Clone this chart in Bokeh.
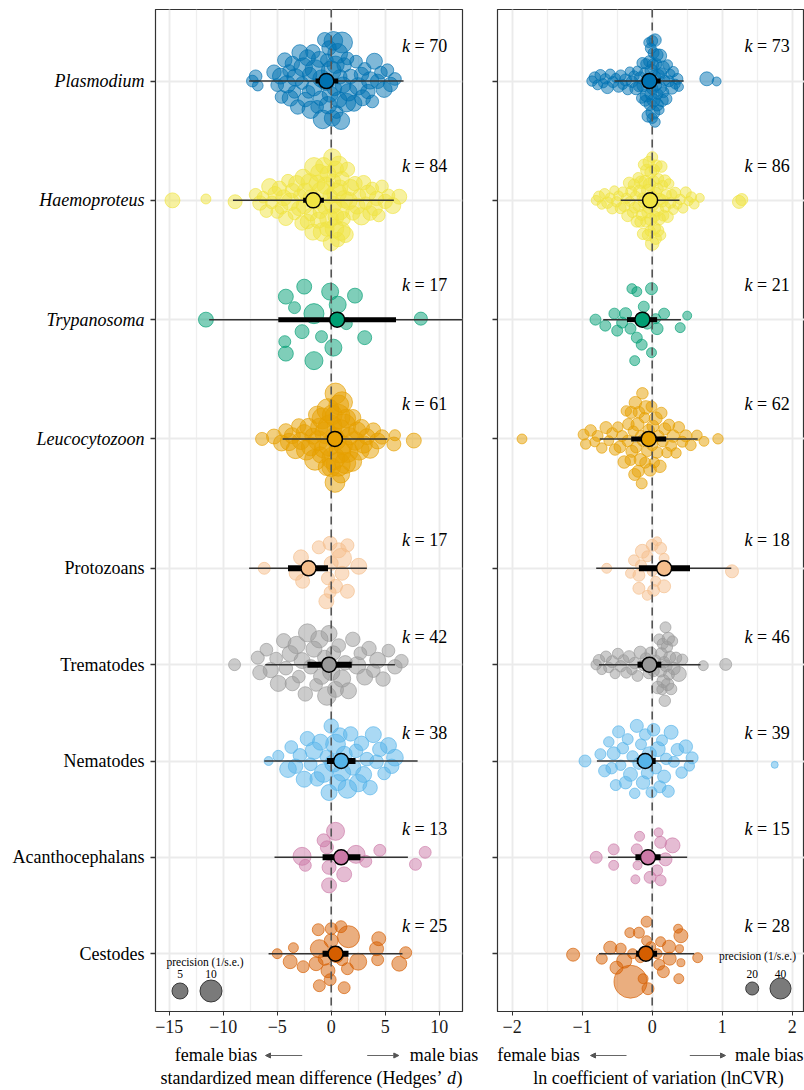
import numpy as np
from bokeh.plotting import figure
from bokeh.models import Range1d, FixedTicker, Arrow, NormalHead, ColumnDataSource, CustomJSTickFormatter
from bokeh.layouts import row, column
from bokeh.embed import file_html
from bokeh.resources import INLINE
from bokeh.core.properties import value

# ---------------- categories ----------------
categories = ["Plasmodium", "Haemoproteus", "Trypanosoma", "Leucocytozoon",
              "Protozoans", "Trematodes", "Nematodes", "Acanthocephalans", "Cestodes"]
italic_label = [True, True, True, True, False, False, False, False, False]
colors = ["#0072B2", "#F0E442", "#009E73", "#E69F00", "#F5BE8C",
          "#999999", "#56B4E9", "#CC79A7", "#D55E00"]

# ---------------- summaries: Hedges' d ----------------
d_est = [-0.45, -1.67, 0.55, 0.34, -2.1, -0.2, 0.92, 0.92, 0.4]
d_ci_lo = [-1.45, -2.6, -4.9, -0.35, -4.0, -2.2, -0.4, -0.8, -0.8]
d_ci_hi = [0.65, -0.68, 6.0, 1.05, -0.3, 1.9, 2.25, 2.7, 1.6]
d_pi_lo = [-7.6, -9.1, -11.3, -4.5, -7.6, -6.1, -6.2, -5.25, -5.8]
d_pi_hi = [6.7, 5.8, 13.5, 5.2, 3.3, 5.9, 8.0, 7.1, 6.6]

# ---------------- summaries: lnCVR ----------------
r_est = [-0.04, -0.03, -0.14, -0.05, 0.17, -0.04, -0.10, -0.06, -0.09]
r_ci_lo = [-0.12, -0.10, -0.36, -0.30, -0.19, -0.21, -0.22, -0.24, -0.23]
r_ci_hi = [0.12, 0.04, 0.07, 0.20, 0.54, 0.13, 0.05, 0.12, 0.07]
r_pi_lo = [-0.54, -0.45, -0.70, -0.75, -0.80, -0.76, -0.79, -0.63, -0.76]
r_pi_hi = [0.45, 0.39, 0.41, 0.65, 1.13, 0.69, 0.59, 0.50, 0.60]

# ---------------- effect sizes: Hedges' d ----------------
d_plasmodium_x = [-7.3, -7.0, -6.8,
                  -5.3, -5.0, -4.7, -4.6, -4.3, -4.1, -3.9,
                  -3.8, -3.6, -3.4, -3.3, -3.1, -2.9, -2.7, -2.6, -2.4, -2.2, -2.1, -2.0,
                  -1.9, -1.7, -1.6, -1.5, -1.3, -1.1, -1.0, -0.9, -0.8, -0.6, -0.5, -0.4, -0.3, -0.2, -0.1, 0.0,
                  0.1, 0.2, 0.3, 0.4, 0.5, 0.6, 0.7, 0.8, 0.9, 1.0, 1.1, 1.2, 1.4, 1.5, 1.6, 1.8,
                  2.1, 2.3, 2.5, 2.8, 2.9, 3.1, 3.4, 3.6, 3.8, 4.0,
                  4.3, 4.6, 4.9, 5.2, 5.5, 5.9]
d_plasmodium_prec = [2.5, 3, 2,
                     4, 3, 5, 3, 4, 6, 3,
                     5, 4, 3, 6, 4, 5, 3, 7, 4, 5, 3, 4,
                     6, 4, 5, 8, 3, 5, 4, 6, 7, 4, 5, 3, 6, 4, 5, 8,
                     5, 7, 4, 6, 3, 8, 5, 4, 6, 9, 5, 4, 7, 3, 6, 4,
                     5, 3, 6, 4, 5, 3, 4, 6, 3, 5,
                     4, 3, 5, 3, 4, 3]

d_haemoproteus_x = [-14.7, -11.6, -8.9,
                    -7.0, -6.6, -6.3, -6.0, -5.7, -5.5, -5.2, -5.0,
                    -4.8, -4.6, -4.4, -4.2, -4.0, -3.8, -3.6, -3.4, -3.2, -3.0, -2.9, -2.7, -2.5,
                    -2.4, -2.2, -2.0, -1.9, -1.7, -1.6, -1.4, -1.3, -1.1, -1.0, -0.9, -0.7, -0.6, -0.5, -0.3, -0.2, -0.1, 0.0,
                    0.1, 0.2, 0.3, 0.4, 0.5, 0.6, 0.7, 0.8, 0.9, 1.0, 1.2, 1.3, 1.5, 1.6, 1.8, 2.0,
                    2.2, 2.4, 2.6, 2.8, 3.0, 3.2, 3.4, 3.6, 3.8, 4.0, 4.2, 4.4,
                    4.7, 5.0, 5.3, 5.7, 6.3,
                    -1.8, -1.2, -0.8, -0.4, 0.15, 0.45, 0.75, 1.1, -2.6]
d_haemoproteus_prec = [4.3, 1.7, 3.7,
                       3, 4, 2.5, 3, 5, 3, 4, 3,
                       4, 3, 5, 4, 3, 6, 4, 3, 5, 4, 3, 4, 5,
                       5, 4, 6, 3, 5, 7, 4, 5, 6, 4, 8, 5, 4, 6, 5, 7, 4, 5,
                       6, 4, 7, 5, 8, 4, 6, 5, 7, 4, 6, 5, 4, 6, 5, 4,
                       4, 5, 3, 6, 4, 3, 5, 4, 3, 5, 4, 3,
                       3, 4, 3, 5, 4.3,
                       6, 5, 7, 4, 6, 5, 8, 4, 5]

d_trypanosoma_x = [-11.6, -2.5, -4.2, -3.4, -1.6, -0.1, 2.2, 0.6, 1.4, -2.7, -0.9, 3.1, -4.3, -4.2, 0.2, -1.6, 8.3]
d_trypanosoma_dy = [0, -33, -23, -12, -6, -28, -24, -15, 4, 12, 17, 18, 22, 34, 28, 41, -1]
d_trypanosoma_prec = [4.3, 4.3, 4.3, 2.6, 8.2, 5.7, 4.3, 5.7, 2.6, 3.7, 2.6, 3.7, 2.6, 4.3, 5.7, 6.5, 3.2]

d_leucocytozoon_x = [-6.4, -5.3,
                     -4.6, -4.2, -3.9, -3.6, -3.3, -3.0,
                     -2.8, -2.5, -2.3, -2.1, -1.9, -1.7, -1.5, -1.3, -1.2, -1.0,
                     -0.8, -0.7, -0.5, -0.4, -0.2, -0.1, 0.0,
                     0.1, 0.2, 0.3, 0.4, 0.5, 0.6, 0.7, 0.8, 0.9, 1.0, 1.1, 1.2,
                     1.4, 1.5, 1.7, 1.9, 2.0, 2.2, 2.4, 2.6, 2.8, 3.0,
                     3.3, 3.6, 3.9, 4.3, 4.7,
                     5.8, 5.9, 7.65,
                     -0.3, 0.35, 0.65, 0.85, 1.3, -1.1]
d_leucocytozoon_prec = [3.2, 4.3,
                        5, 4, 6, 5, 7, 4,
                        6, 5, 8, 6, 7, 5, 9, 6, 8, 5,
                        9, 7, 10, 6, 8, 12, 7,
                        8, 11, 6, 9, 7, 13, 8, 10, 6, 9, 7, 11,
                        7, 9, 6, 8, 5, 7, 6, 8, 5, 6,
                        5, 6, 4, 5, 4,
                        3.7, 2.2, 4.3,
                        10, 8, 12, 7, 9, 6]

d_protozoans_x = [-6.2, -2.8, -3.25, -2.65, -1.15, -0.1, 0.7, 1.5, 0.95, 0.0, 2.55, 1.0, -0.3, 0.4, 1.5, -0.45, -0.1]
d_protozoans_dy = [0, -11, 5, 13, -21, -25, -18, -23, -10, -5, -2, 5, 10, 18, 23, 33, 24]
d_protozoans_prec = [2.6, 4.3, 3.7, 3.7, 3.2, 3.7, 4.3, 3.2, 8.2, 3.7, 5.0, 3.7, 3.2, 3.7, 3.7, 4.3, 2.6]

d_trematodes_x = [-8.95, -6.8, -6.6, -6.0, -5.6, -5.1, -4.9, -4.4, -4.2, -3.8,
                  -3.6, -3.2, -3.0, -2.7, -2.4, -2.2, -1.9, -1.6, -1.4, -1.1,
                  -0.9, -0.6, -0.4, -0.2, 0.0, 0.2, 0.4, 0.7, 1.0, 1.3,
                  1.6, 2.0, 2.4, 2.7, 3.1, 3.5, 3.9, 4.3, 4.8, 5.3, 5.9, 6.5]
d_trematodes_prec = [2.6, 3.2, 4, 3, 4.5, 3, 5, 4, 3.5, 5,
                     4, 6, 3, 5, 4, 6.5, 4, 5, 3, 6,
                     5, 4, 7, 5, 6, 4, 5, 3.5, 6, 4,
                     5, 4, 6, 3, 5, 4, 3.5, 5, 4, 3, 4, 3.5]

d_nematodes_x = [-5.8, -4.9, -4.0, -3.7, -3.3, -2.9, -2.5, -2.2, -1.9, -1.6,
                 -1.3, -1.0, -0.7, -0.4, -0.2, 0.0, 0.2, 0.4, 0.6, 0.8,
                 1.0, 1.2, 1.5, 1.8, 2.0, 2.3, 2.5, 2.8, 3.0, 3.3,
                 3.6, 3.9, 4.2, 4.5, 4.9, 5.3, 5.6, 5.9]
d_nematodes_prec = [1.3, 2.2, 5.5, 3, 4, 3.5, 5, 4, 3, 6,
                    4, 5, 7, 3.5, 5, 4, 6, 8, 5, 4,
                    6, 5, 7, 4, 5, 3.5, 6, 4, 5, 3.5,
                    4, 5, 3.5, 4, 3, 5, 4, 5.5]

d_acanthocephalans_x = [0.4, -0.7, -0.4, -2.7, -2.4, 2.3, 3.2, 4.5, 7.8, 8.7, -0.2, 1.2, -0.2]
d_acanthocephalans_dy = [-26, -17, -10, -1, 8, -3, 4, -7, 7, -5, 10, 17, 28]
d_acanthocephalans_prec = [6.5, 3.2, 3.2, 6.5, 2.6, 6.5, 2.6, 2.6, 2.6, 2.6, 3.7, 4.3, 4.3]

d_cestodes_x = [-5.0, -3.5, -3.8, -2.6, -1.2, 0.0, 0.9, 1.6, -1.1, -1.4,
                -0.3, -0.1, -1.1, 1.2, 1.5, 2.5, 4.4, 4.2, 4.3, 6.3,
                6.9, 0.0, 0.5, -0.6, 1.0]
d_cestodes_dy = [0, -6, 8, 13, -24, -25, -27, -17, -5, 10,
                 17, 26, 32, 34, 15, 8, -15, -5, 6, 10,
                 -1, -13, 2, 5, 6]
d_cestodes_prec = [1.7, 1.7, 3.7, 2.6, 2.6, 2.6, 2.6, 10, 6.5, 3.7,
                   3.7, 2.6, 2.6, 2.6, 2.6, 5.7, 3.7, 3.7, 2.6, 4.3,
                   2.6, 3.7, 3.7, 3.2, 2.6]

# ---------------- effect sizes: lnCVR ----------------
r_plasmodium_x = [-0.86, -0.82, -0.78, -0.74, -0.70, -0.67, -0.64, -0.60, -0.56, -0.52, -0.48,
                  -0.45, -0.42, -0.38, -0.35, -0.32, -0.29, -0.26, -0.23, -0.21, -0.19,
                  -0.17, -0.15, -0.13, -0.11, -0.10, -0.08, -0.07, -0.06, -0.05, -0.04,
                  -0.03, -0.02, -0.01, 0.00, 0.01, 0.01, 0.02, 0.03, 0.04, 0.05,
                  0.06, 0.07, 0.08, 0.09, 0.10, 0.11, 0.12, 0.13, 0.14, 0.16,
                  0.18, 0.20, 0.22, 0.24, 0.26, 0.28, 0.30, 0.33, 0.36, 0.38,
                  0.78, 0.92,
                  -0.02, 0.00, 0.02, -0.04, 0.04, -0.09, 0.07, -0.14, 0.15, 0.0]
r_plasmodium_prec = [15, 17, 14, 16, 13, 15, 18, 14, 16, 13, 17,
                     16, 14, 18, 15, 13, 17, 15, 19, 14, 16,
                     17, 15, 19, 14, 16, 20, 15, 18, 14, 17,
                     18, 16, 20, 15, 17, 22, 16, 19, 15, 18,
                     16, 19, 15, 18, 14, 21, 17, 15, 19, 16,
                     15, 17, 14, 16, 13, 18, 15, 14, 16, 13,
                     22, 12.5,
                     18, 16, 20, 17, 19, 15, 18, 16, 21, 17]

r_haemoproteus_x = [-0.80, -0.76, -0.72, -0.68, -0.64, -0.60, -0.57, -0.54, -0.51, -0.48,
                    -0.45, -0.42, -0.40, -0.37, -0.35, -0.32, -0.30, -0.28, -0.26, -0.24,
                    -0.22, -0.20, -0.19, -0.17, -0.16, -0.14, -0.13, -0.12, -0.10, -0.09,
                    -0.08, -0.07, -0.06, -0.05, -0.04, -0.03, -0.02, -0.01, 0.00, 0.01,
                    0.02, 0.03, 0.04, 0.05, 0.06, 0.07, 0.08, 0.09, 0.10, 0.11,
                    0.12, 0.13, 0.15, 0.16, 0.18, 0.20, 0.22, 0.24, 0.26, 0.28,
                    0.30, 0.33, 0.36, 0.40, 0.44, 0.48, 0.52, 0.56, 0.60, 0.68,
                    1.24, 1.28,
                    -0.18, -0.15, -0.11, -0.06, -0.02, 0.03, 0.08, -0.25, -0.33, 0.14, 0.19, -0.05, 0.0, 0.05]
r_haemoproteus_prec = [14, 16, 13, 15, 17, 14, 16, 13, 15, 14,
                       16, 14, 17, 15, 18, 14, 16, 15, 17, 14,
                       17, 15, 18, 16, 19, 15, 17, 16, 20, 15,
                       18, 16, 20, 17, 19, 15, 18, 16, 21, 17,
                       16, 19, 15, 18, 17, 20, 16, 15, 19, 17,
                       15, 17, 14, 16, 18, 15, 17, 14, 16, 15,
                       14, 16, 13, 15, 14, 16, 13, 15, 14, 12.5,
                       20, 17.9,
                       18, 16, 20, 17, 19, 15, 18, 16, 17, 19, 15, 18, 16, 17]

r_trypanosoma_x = [-0.29, -0.22, -0.01, -0.12, -0.81, -0.67, -0.54, -0.50, -0.38, -0.31,
                   -0.22, -0.15, -0.01, -0.25, 0.05, 0.07, 0.17, 0.40, 0.50, -0.07, -0.43]
r_trypanosoma_dy = [-31, -28, -31, -13, 0, 6, -6, 11, -6, 9,
                    18, 25, 33, 41, -1, 9, -6, 8, -4, 4, 3]
r_trypanosoma_prec = [14.2, 14.2, 17.9, 16, 16, 16, 16, 16, 17.9, 16,
                      16, 16, 14.2, 14.2, 14.2, 17.9, 16, 14.2, 12.5, 16, 16]

r_leucocytozoon_x = [-1.86, -0.98, -0.95, -0.88, -0.82, -0.78, -0.72, -0.66, -0.62, -0.57,
                     -0.53, -0.49, -0.46, -0.43, -0.40, -0.37, -0.34, -0.31, -0.29, -0.27,
                     -0.25, -0.23, -0.21, -0.19, -0.17, -0.15, -0.13, -0.11, -0.09, -0.07,
                     -0.05, -0.03, -0.01, 0.01, 0.03, 0.05, 0.07, 0.09, 0.11, 0.13,
                     0.15, 0.18, 0.21, 0.24, 0.27, 0.30, 0.34, 0.38, 0.43, 0.48,
                     0.55, 0.64, 0.74, 0.94,
                     -0.20, -0.14, -0.24, -0.10, -0.30, 0.0, -0.16, -0.35]
r_leucocytozoon_prec = [14, 16, 15, 17, 14, 16, 15, 18, 14, 16,
                        17, 15, 18, 16, 19, 15, 17, 16, 18, 15,
                        18, 16, 20, 17, 19, 16, 18, 15, 21, 17,
                        17, 19, 16, 18, 15, 20, 17, 16, 19, 17,
                        16, 18, 15, 17, 16, 19, 15, 17, 16, 18,
                        16, 15, 14, 15,
                        18, 17, 19, 16, 18, 17, 16, 17]

r_protozoans_x = [-0.65, -0.31, -0.26, -0.14, 0.0, 0.12, -0.07, -0.19, 0.0, -0.19,
                  -0.07, 0.02, 0.17, 1.14, 0.05, -0.16, 0.17, 0.07]
r_protozoans_dy = [0, 5, -8, -17, -23, -20, -12, 7, 3, 20,
                   27, 22, 18, 3, 13, -3, -10, -27]
r_protozoans_prec = [14.2, 14.2, 16, 22.1, 17.9, 17.9, 16, 17.9, 14.2, 17.9,
                     14.2, 17.9, 20, 20, 14.2, 16, 14.2, 12.5]

r_trematodes_x = [-0.80, -0.76, -0.72, -0.66, -0.62, -0.57, -0.53, -0.49, -0.45, -0.41,
                  -0.37, -0.33, -0.29, -0.25, -0.21, -0.17, -0.13, -0.09, -0.05, -0.02,
                  0.02, 0.05, 0.08, 0.10, 0.12, 0.14, 0.16, 0.17, 0.19, 0.20,
                  0.21, 0.22, 0.24, 0.25, 0.27, 0.29, 0.31, 0.34, 0.38, 0.43,
                  0.73, 1.05,
                  0.13, 0.18, 0.23, 0.15]
r_trematodes_prec = [15, 17, 14, 16, 15, 18, 14, 16, 17, 15,
                     16, 18, 15, 17, 16, 19, 15, 17, 16, 18,
                     17, 15, 19, 16, 18, 15, 20, 17, 16, 18,
                     17, 19, 16, 18, 17, 15, 19, 17, 24.3, 16,
                     14.2, 17.9,
                     18, 17, 19, 16]

r_nematodes_x = [-0.96, -0.74, -0.68, -0.62, -0.58, -0.55, -0.52, -0.48, -0.45, -0.42,
                 -0.38, -0.35, -0.31, -0.28, -0.25, -0.22, -0.19, -0.16, -0.13, -0.10,
                 -0.07, -0.04, -0.01, 0.02, 0.05, 0.08, 0.11, 0.14, 0.17, 0.20,
                 0.23, 0.27, 0.31, 0.36, 0.42, 0.48, 0.53, 0.57, 1.75]
r_nematodes_prec = [17.9, 16, 18, 15, 17, 20, 16, 18, 15, 17,
                    19, 16, 22, 17, 15, 20, 18, 16, 21, 17,
                    18, 22, 16, 19, 17, 24, 18, 16, 20, 17,
                    18, 22, 16, 19, 17, 21, 15, 18, 9.5]

r_acanthocephalans_x = [-0.80, -0.55, -0.55, -0.18, -0.22, -0.21, -0.24, 0.09, 0.12, 0.29, 0.19, 0.07, -0.03, 0.12, -0.05]
r_acanthocephalans_dy = [0, -8, 8, -21, -8, 8, 22, -25, -15, -12, 2, 13, 20, 23, 0]
r_acanthocephalans_prec = [17.9, 16, 14.2, 14.2, 16, 12.5, 12.5, 12.5, 17.9, 24.3, 20, 16, 17.9, 16, 14.2]

r_cestodes_x = [-1.13, -0.72, -0.60, -0.45, -0.40, -0.51, -0.32, -0.19, -0.08, -0.08,
                -0.31, -0.13, -0.06, 0.12, 0.24, 0.37, 0.41, 0.39, 0.25, 0.41,
                0.10, 0.16, 0.38, 0.65, -0.28, 0.07, -0.17, -0.02]
r_cestodes_dy = [1, 5, -6, -5, 7, 14, -21, -21, -32, -13,
                 28, 25, 35, -12, -7, -25, -18, -5, 5, 9,
                 11, 18, 25, 4, 0, 0, 4, -7]
r_cestodes_prec = [20, 16, 20, 16, 24.3, 20, 14.2, 16, 16, 14.2,
                   82.8, 14.2, 17.9, 14.2, 20, 12.5, 22.1, 11, 20, 11,
                   16, 17.9, 14.2, 14.2, 14.2, 14.2, 14.2, 14.2]

d_groups = [(d_plasmodium_x, d_plasmodium_prec, None),
            (d_haemoproteus_x, d_haemoproteus_prec, None),
            (d_trypanosoma_x, d_trypanosoma_prec, d_trypanosoma_dy),
            (d_leucocytozoon_x, d_leucocytozoon_prec, None),
            (d_protozoans_x, d_protozoans_prec, d_protozoans_dy),
            (d_trematodes_x, d_trematodes_prec, None),
            (d_nematodes_x, d_nematodes_prec, None),
            (d_acanthocephalans_x, d_acanthocephalans_prec, d_acanthocephalans_dy),
            (d_cestodes_x, d_cestodes_prec, d_cestodes_dy)]
r_groups = [(r_plasmodium_x, r_plasmodium_prec, None),
            (r_haemoproteus_x, r_haemoproteus_prec, None),
            (r_trypanosoma_x, r_trypanosoma_prec, r_trypanosoma_dy),
            (r_leucocytozoon_x, r_leucocytozoon_prec, None),
            (r_protozoans_x, r_protozoans_prec, r_protozoans_dy),
            (r_trematodes_x, r_trematodes_prec, None),
            (r_nematodes_x, r_nematodes_prec, None),
            (r_acanthocephalans_x, r_acanthocephalans_prec, r_acanthocephalans_dy),
            (r_cestodes_x, r_cestodes_prec, r_cestodes_dy)]

d_ticks = [-15, -10, -5, 0, 5, 10]
r_ticks = [-2, -1, 0, 1, 2]
d_legend_breaks = [5, 10]
r_legend_breaks = [20, 40]

# ---------------- layout (page pixels) ----------------
FONT = "Liberation Serif"
TOP, MID, BOT = 9.0, 510.0, 1011.0
PANEL_H = 1043          # canvas height of the panel row
TOTAL_H = 1090
row_y = [TOP + (0.6 + i) * (MID - TOP) / 4.2 for i in range(4)] + \
        [MID + (0.6 + i) * (BOT - MID) / 5.2 for i in range(5)]
row_gap = [(MID - TOP) / 4.2] * 4 + [(BOT - MID) / 5.2] * 5


def vdc_seq(n):
    out = np.zeros(n)
    for i in range(1, n + 1):
        v, denom, k = 0.0, 1.0, i
        while k > 0:
            k, rem = divmod(k, 2)
            denom *= 2.0
            v += rem / denom
        out[i - 1] = v
    return out


def quasirandom(xs, half_width, adjust=0.5):
    xs = np.asarray(xs, float)
    n = len(xs)
    sd = xs.std(ddof=1)
    q75, q25 = np.percentile(xs, [75, 25])
    iqr = (q75 - q25) / 1.34
    lo = min(sd, iqr) if iqr > 0 else sd
    bw = 0.9 * lo * n ** (-0.2) * adjust
    dens = np.exp(-0.5 * ((xs[:, None] - xs[None, :]) / bw) ** 2).sum(axis=1)
    dens = dens / dens.max()
    ranks = np.argsort(np.argsort(xs, kind="stable"), kind="stable")
    return (vdc_seq(n)[ranks] - 0.5) * 2 * half_width * dens


def blank_fig(w, fh, x0, x1, y0, y1, mtop, mbot):
    f = figure(frame_width=w, frame_height=fh,
               min_border_left=0, min_border_right=0, min_border_top=mtop, min_border_bottom=mbot,
               x_range=Range1d(x0, x1), y_range=Range1d(y0, y1),
               x_axis_type=None, y_axis_type=None,
               output_backend="svg", toolbar_location=None, tools="")
    f.outline_line_color = None
    f.grid.visible = False
    f.background_fill_color = "white"
    f.border_fill_color = "white"
    return f


def make_panel(cfg, groups, est, ci_lo, ci_hi, pi_lo, pi_hi):
    ppu = cfg["ppu"]
    x0 = cfg["x0"]
    x1 = x0 + 307 / ppu
    fl = cfg["frame_left"]

    def X(px):
        return x0 + (px - fl) / ppu

    p = figure(frame_width=307, frame_height=int(BOT - TOP),
               min_border_left=cfg["mbl"], min_border_right=cfg["mbr"],
               min_border_top=int(TOP), min_border_bottom=int(PANEL_H - BOT),
               x_range=Range1d(x0, x1), y_range=Range1d(BOT, TOP),
               output_backend="svg", toolbar_location=None, tools="")
    p.background_fill_color = "white"
    p.border_fill_color = "white"
    p.outline_line_color = "#333333"
    p.outline_line_width = 1.2

    # axes
    p.xaxis.ticker = FixedTicker(ticks=cfg["ticks"], minor_ticks=cfg["minor"])
    p.xaxis.major_label_overrides = {t: (str(t).replace("-", "\u2212")) for t in cfg["ticks"]}
    p.xaxis.major_label_text_font = FONT
    p.xaxis.major_label_text_font_size = "18px"
    p.xaxis.major_label_text_color = "#1a1a1a"
    p.xaxis.major_tick_out = 4
    p.xaxis.major_tick_in = 0
    p.xaxis.minor_tick_line_color = None
    p.xaxis.axis_line_color = "#333333"
    p.xaxis.major_tick_line_color = "#333333"
    p.xaxis.major_label_standoff = 4

    p.yaxis.ticker = FixedTicker(ticks=row_y)
    p.yaxis.formatter = CustomJSTickFormatter(code="return ''")
    p.yaxis.major_label_text_font_size = "0px"
    p.yaxis.major_label_standoff = 0
    p.yaxis.major_tick_out = 5
    p.yaxis.major_tick_in = 0
    p.yaxis.minor_tick_line_color = None
    p.yaxis.axis_line_color = "#333333"
    p.yaxis.major_tick_line_color = "#333333"
    p.yaxis.major_tick_line_width = 1.5

    # grid
    p.xgrid.grid_line_color = "#EBEBEB"
    p.xgrid.grid_line_width = 1.8
    p.xgrid.minor_grid_line_color = "#EFEFEF"
    p.xgrid.minor_grid_line_width = 1.3
    p.ygrid.grid_line_color = "#EBEBEB"
    p.ygrid.grid_line_width = 1.8

    size_fn = cfg["size"]

    # raw effect sizes
    for i, (xs, prec, dy) in enumerate(groups):
        xs = np.asarray(xs, float)
        prec = np.asarray(prec, float)
        if dy is None:
            off = quasirandom(xs, 0.4 * row_gap[i])
        else:
            off = np.asarray(dy, float)
        src = ColumnDataSource(dict(x=xs, y=row_y[i] + off, s=size_fn(prec)))
        p.scatter("x", "y", size="s", source=src, fill_color=colors[i], fill_alpha=0.5,
                  line_color=colors[i], line_alpha=0.65, line_width=1)

    # zero line
    p.segment(x0=[0], y0=[TOP], x1=[0], y1=[BOT], line_color="#555555",
              line_width=1.6, line_dash="8 5")

    # prediction intervals
    p.segment(x0=pi_lo, y0=row_y, x1=pi_hi, y1=row_y, line_color="#333333", line_width=1.5)
    # confidence intervals
    ci_w = [5] * 4 + [6] * 5
    p.segment(x0=ci_lo, y0=row_y, x1=ci_hi, y1=row_y, line_color="black", line_width=ci_w)
    # estimates
    p.scatter(x=est, y=row_y, size=15, fill_color=colors, line_color="black", line_width=1.5)

    # k labels
    ky = [row_y[i] - 0.29 * row_gap[i] for i in range(9)]
    ks = ["= %d" % len(g[0]) for g in groups]
    p.text(x=[X(cfg["k_right"])] * 9, y=ky, text=["k"] * 9, text_font=value(FONT),
           text_font_style="italic", text_font_size="18px", text_align="right",
           text_baseline="middle", text_color="black")
    p.text(x=[X(cfg["k_right"] + 4.5)] * 9, y=ky, text=ks, text_font=value(FONT),
           text_font_size="18px", text_align="left", text_baseline="middle", text_color="black")

    # precision legend
    lx = [X(v) for v in cfg["leg_x"]]
    p.text(x=[X(cfg["leg_title_x"])], y=[cfg["leg_title_y"]], text=["precision (1/s.e.)"],
           text_font=value(FONT), text_font_size="11.5px", text_align="center",
           text_baseline="middle", text_color="black")
    p.text(x=lx, y=[cfg["leg_num_y"]] * 2, text=[str(b) for b in cfg["breaks"]],
           text_font=value(FONT), text_font_size="11.5px", text_align="center",
           text_baseline="middle", text_color="black")
    p.scatter(x=lx, y=[cfg["leg_circ_y"]] * 2, size=size_fn(np.asarray(cfg["breaks"], float)),
              fill_color="#6b6b6b", fill_alpha=0.9, line_color="#3a3a3a", line_width=1)
    return p


LABEL_W = 145
cfg_left = dict(ppu=10.8, x0=-16.27, frame_left=155, mbl=155 - LABEL_W, mbr=17,
                ticks=d_ticks, minor=[-15, -12.5, -10, -7.5, -5, -2.5, 0, 2.5, 5, 7.5, 10, 12.5],
                size=lambda pr: 1.5 + 6.48 * np.sqrt(pr),
                k_right=409.5, leg_x=[179.5, 210.5], leg_title_x=204.5, leg_title_y=961,
                leg_num_y=973, leg_circ_y=990.5, breaks=d_legend_breaks)
cfg_right = dict(ppu=70.0, x0=-2.21, frame_left=497, mbl=18, mbr=0,
                 ticks=r_ticks, minor=[-2, -1.5, -1, -0.5, 0, 0.5, 1, 1.5, 2],
                 size=lambda pr: np.maximum(4, -6.3 + 4.32 * np.sqrt(pr)),
                 k_right=752, leg_x=[751.7, 780], leg_title_x=757, leg_title_y=955.5,
                 leg_num_y=973, leg_circ_y=988, breaks=r_legend_breaks)

p_left = make_panel(cfg_left, d_groups, d_est, d_ci_lo, d_ci_hi, d_pi_lo, d_pi_hi)
p_right = make_panel(cfg_right, r_groups, r_est, r_ci_lo, r_ci_hi, r_pi_lo, r_pi_hi)

# ---- category labels (left strip; same vertical frame as the panels) ----
p_lab = blank_fig(LABEL_W, int(BOT - TOP), 0, LABEL_W, BOT, TOP, int(TOP), int(PANEL_H - BOT))
ital = [i for i in range(9) if italic_label[i]]
norm = [i for i in range(9) if not italic_label[i]]
p_lab.text(x=[LABEL_W - 1] * len(ital), y=[row_y[i] for i in ital], text=[categories[i] for i in ital],
           text_font=value(FONT), text_font_style="italic", text_font_size="18px",
           text_align="right", text_baseline="middle", text_color="black")
p_lab.text(x=[LABEL_W - 1] * len(norm), y=[row_y[i] for i in norm], text=[categories[i] for i in norm],
           text_font=value(FONT), text_font_size="18px",
           text_align="right", text_baseline="middle", text_color="black")

# ---- bottom strip: bias arrows and axis titles (page coordinates) ----
p_bot = blank_fig(804, TOTAL_H - PANEL_H, 0, 804, TOTAL_H, PANEL_H, 0, 0)
BY, TY = 1054, 1077
p_bot.text(x=[256.7, 579.3], y=[BY, BY], text=["female bias", "female bias"],
           text_font=value(FONT), text_font_size="18px", text_align="right",
           text_baseline="middle", text_color="black")
p_bot.text(x=[409.3, 734.5], y=[BY, BY], text=["male bias", "male bias"],
           text_font=value(FONT), text_font_size="18px", text_align="left",
           text_baseline="middle", text_color="black")
for tail, head in [(301.7, 265), (366.7, 398.3), (626, 590), (689.3, 725)]:
    p_bot.add_layout(Arrow(end=NormalHead(size=5, fill_color="#555555", line_color="#555555"),
                           x_start=tail, y_start=BY + 1, x_end=head, y_end=BY + 1,
                           line_color="#666666", line_width=1.2))
p_bot.text(x=[442], y=[TY], text=["standardized mean difference (Hedges\u2019"],
           text_font=value(FONT), text_font_size="18px", text_align="right",
           text_baseline="middle", text_color="black")
p_bot.text(x=[446.5], y=[TY], text=["d"], text_font=value(FONT), text_font_style="italic",
           text_font_size="18px", text_align="left", text_baseline="middle", text_color="black")
p_bot.text(x=[456], y=[TY], text=[")"], text_font=value(FONT),
           text_font_size="18px", text_align="left", text_baseline="middle", text_color="black")
p_bot.text(x=[658], y=[TY], text=["ln coefficient of variation (lnCVR)"], text_font=value(FONT),
           text_font_size="18px", text_align="center", text_baseline="middle", text_color="black")

layout = column(row(p_lab, p_left, p_right), p_bot)
open("out.html", "w").write(file_html(layout, INLINE))
